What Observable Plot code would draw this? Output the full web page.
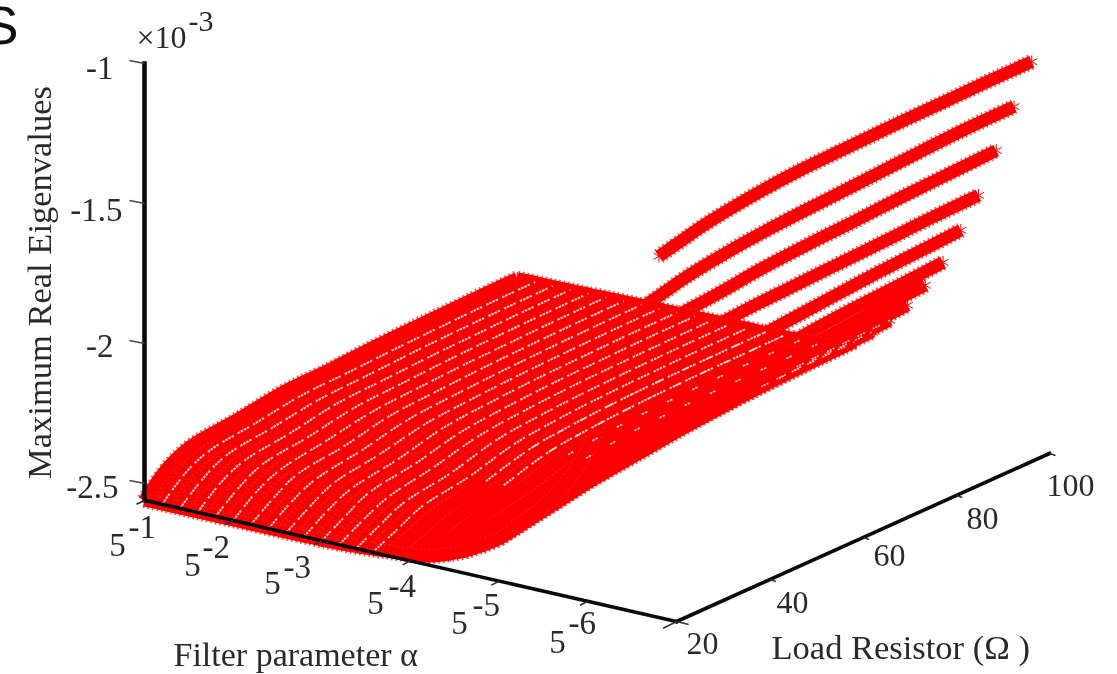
<!DOCTYPE html>
<html>
<head>
<meta charset="utf-8">
<style>html,body{margin:0;padding:0;background:#fff;overflow:hidden}</style>
<script src="https://cdn.jsdelivr.net/npm/d3@7"></script>
<script src="https://cdn.jsdelivr.net/npm/@observablehq/plot@0.6"></script>
</head>
<body>
<div id="chart"></div>
<script>
// Filter parameter alpha = 5^-n, load resistor in ohms, eigenvalue in units of 1e-3
const loadResistors = [20, 25, 30, 40, 50, 60, 70, 80, 90, 100];
const alphaExponents = [1.0,1.2,1.4,1.6,1.8,2.0,2.2,2.4,2.6,2.8,3.0,3.2,3.4,3.6,3.8,4.0,4.2,4.4,4.6,4.8,5.0,5.2,5.4,5.6,5.8,6.0,6.2,6.4,6.6,6.8];
const a10 = [-2.56,-2.48,-2.44,-2.42,-2.395,-2.39,-2.38,-2.374,-2.37,-2.367];
const a12 = [-2.56,-2.485,-2.445,-2.42,-2.395,-2.388,-2.38,-2.374,-2.369,-2.366];
const a14 = [-2.56,-2.49,-2.445,-2.42,-2.395,-2.387,-2.378,-2.372,-2.368,-2.366];
const a16 = [-2.56,-2.49,-2.45,-2.425,-2.395,-2.386,-2.377,-2.372,-2.367,-2.365];
const a18 = [-2.56,-2.495,-2.45,-2.425,-2.395,-2.385,-2.376,-2.37,-2.366,-2.364];
const a20 = [-2.56,-2.495,-2.455,-2.425,-2.395,-2.384,-2.375,-2.37,-2.365,-2.363];
const a22 = [-2.56,-2.50,-2.455,-2.43,-2.395,-2.383,-2.374,-2.368,-2.364,-2.362];
const a24 = [-2.56,-2.50,-2.46,-2.43,-2.395,-2.382,-2.373,-2.367,-2.363,-2.361];
const a26 = [-2.56,-2.505,-2.46,-2.43,-2.395,-2.381,-2.372,-2.366,-2.362,-2.36];
const a28 = [-2.56,-2.505,-2.465,-2.435,-2.395,-2.38,-2.37,-2.365,-2.361,-2.36];
const a30 = [-2.56,-2.51,-2.465,-2.435,-2.395,-2.379,-2.369,-2.364,-2.36,-2.359];
const a32 = [-2.558,-2.51,-2.47,-2.435,-2.395,-2.378,-2.368,-2.363,-2.36,-2.358];
const a34 = [-2.555,-2.51,-2.47,-2.44,-2.395,-2.377,-2.367,-2.362,-2.359,-2.358];
const a36 = [-2.55,-2.51,-2.47,-2.44,-2.395,-2.376,-2.366,-2.361,-2.358,-2.357];
const a38 = [-2.545,-2.51,-2.475,-2.44,-2.393,-2.375,-2.365,-2.36,-2.358,-2.357];
const a40 = [-2.54,-2.51,-2.475,-2.44,-2.392,-2.374,-2.364,-2.359,-2.357,-2.356];
const a42 = [-2.53,-2.505,-2.475,-2.44,-2.391,-2.372,-2.363,-2.358,-2.356,-2.356];
const a44 = [-2.51,-2.495,-2.475,-2.445,-2.39,-2.37,-2.361,-2.357,-2.356,-2.355];
const a46 = [-2.485,-2.48,-2.475,-2.445,-2.39,-2.367,-2.36,-2.355,-2.355,-2.355];
const a48 = [-2.45,-2.445,-2.43,-2.40,-2.36,-2.345,-2.34,-2.33,-2.325,-2.32];
const a50 = [-2.41,-2.395,-2.38,-2.35,-2.33,-2.31,-2.295,-2.285,-2.275,-2.271];
const a52 = [-2.35,-2.335,-2.32,-2.29,-2.27,-2.255,-2.24,-2.23,-2.222,-2.214];
const a54 = [-2.29,-2.275,-2.26,-2.235,-2.21,-2.19,-2.18,-2.165,-2.155,-2.146];
const a56 = [-2.22,-2.205,-2.19,-2.16,-2.14,-2.12,-2.10,-2.085,-2.07,-2.06];
const a58 = [-2.13,-2.115,-2.10,-2.07,-2.045,-2.02,-2.0,-1.985,-1.975,-1.964];
const a60 = [-2.02,-1.99,-1.96,-1.925,-1.90,-1.885,-1.87,-1.855,-1.845,-1.835];
const a62 = [-1.83,-1.80,-1.77,-1.745,-1.73,-1.722,-1.715,-1.708,-1.70,-1.696];
const a64 = [-1.63,-1.615,-1.60,-1.585,-1.565,-1.553,-1.545,-1.535,-1.528,-1.521];
const a66 = [-1.47,-1.45,-1.43,-1.405,-1.39,-1.38,-1.37,-1.36,-1.352,-1.35];
const a68 = [-1.27,-1.25,-1.23,-1.205,-1.19,-1.185,-1.18,-1.178,-1.175,-1.175];
const eigenSeries = [a10,a12,a14,a16,a18,a20,a22,a24,a26,a28,a30,a32,a34,a36,a38,a40,a42,a44,a46,a48,a50,a52,a54,a56,a58,a60,a62,a64,a66,a68];

const zTicks = [-1, -1.5, -2, -2.5];
const zTickLabels = ["-1", "-1.5", "-2", "-2.5"];
const alphaTicks = [1, 2, 3, 4, 5, 6];
const rTicks = [20, 40, 60, 80, 100];

// Oblique view of the three data axes on the drawing plane
const view = {ox: 144, oy: 499.8, ex: 88.7, ey: 20.2, rx: 4.66, ry: -2.1, zy: -280};
const px = (e, r) => view.ox + (e - 1) * view.ex + (r - 20) * view.rx;
const py = (e, r, z) => view.oy + (e - 1) * view.ey + (r - 20) * view.ry + (z + 2.56) * view.zy;

const surface = alphaExponents.flatMap((e, i) =>
  loadResistors.map((r, j) => ({e, r, z: eigenSeries[i][j], x: px(e, r), y: py(e, r, eigenSeries[i][j])})));
const flat = surface.filter((d) => d.e <= 4.6);
const rim = flat.filter((d) => d.r === 20)
  .concat(flat.filter((d) => d.e === 4.6 && d.r > 20))
  .concat(flat.filter((d) => d.r === 100 && d.e < 4.6).reverse())
  .concat(flat.filter((d) => d.e === 1 && d.r > 20 && d.r < 100).reverse());
const denseFlecks = surface.filter((d) => d.e >= 1.2 && ((d.e <= 3.6) || (d.e <= 4.0 && d.r >= 40)));
const sparseFlecks = surface.filter((d) => d.e >= 3.8 && d.e <= 4.4 && d.r >= 50);
const farFlecks = surface.filter((d) => d.e >= 4.8 && d.e <= 5.2 && d.r >= 80);

const serif = "'Liberation Serif', 'Times New Roman', serif";
const ink = "#2a2a2a";
const red = "#fb0000";
const tooth = "#ff1a1a";
const teeth = "1.6 3";

// Label nudges away from their ticks
const zLabelEnd = [113, 122, 113, 118];
const zLabelBase = [78, 220, 356, 497];
const fiveCenter = [117, 192, 272, 375, 459, 557];
const fiveBase = [555, 575, 593, 613, 633, 652];
const expStart = [128, 202, 283, 388, 472, 568];
const expBase = [537, 557, 577, 596, 615, 633];
const rLabelCenter = [702, 792, 889, 982, 1070];
const rLabelBase = [653, 612, 565, 528, 495];

const axisLine = (pts, w) => Plot.line(pts, {x: "x", y: "y", stroke: "#0a0a0a", strokeWidth: w, strokeLinecap: "square"});
const zEnd = [{x: px(1, 20), y: py(1, 20, -2.56)}, {x: px(1, 20), y: py(1, 20, -1)}];
const alphaEnd = [{x: px(1, 20), y: py(1, 20, -2.56)}, {x: px(7, 20), y: py(7, 20, -2.56)}];
const rEnd = [{x: px(7, 20), y: py(7, 20, -2.56)}, {x: px(7, 100), y: py(7, 100, -2.56)}];

const txt = (data, opts) => Plot.text(data, {fontFamily: serif, fill: ink, lineAnchor: "bottom", ...opts});
const along = (data, z, opts) => Plot.line(data, {x: "x", y: "y", z, curve: "catmull-rom", strokeLinecap: "butt", ...opts});

const chart = Plot.plot({
  width: 1117,
  height: 674,
  marginTop: 0, marginRight: 0, marginBottom: 0, marginLeft: 0,
  x: {domain: [0, 1117], range: [0, 1117], axis: null},
  y: {domain: [0, 674], range: [0, 674], axis: null},
  style: {background: "#fff", filter: "blur(0.6px)", overflow: "hidden"},
  marks: [
    // outline of the low, nearly flat part of the surface
    Plot.line(rim, {x: "x", y: "y", fill: red, stroke: "none"}),
    // the surface: one stroke per alpha series, toothed by its markers
    along(surface, "e", {stroke: tooth, strokeOpacity: 0.8, strokeWidth: 16, strokeDasharray: teeth}),
    along(surface, "e", {stroke: red, strokeWidth: 12.4}),
    Plot.dot(surface, {x: "x", y: "y", symbol: "asterisk", r: 6, stroke: red, strokeWidth: 1}),
    // rim rows at the lowest and highest resistor
    along(surface.filter((d) => d.r === 20 && d.e <= 6.6), "r", {stroke: tooth, strokeOpacity: 0.8, strokeWidth: 15.5, strokeDasharray: teeth}),
    along(surface.filter((d) => d.r === 20 && d.e <= 6.6), "r", {stroke: red, strokeWidth: 12}),
    along(flat.filter((d) => d.r === 100), "r", {stroke: tooth, strokeOpacity: 0.8, strokeWidth: 15.5, strokeDasharray: teeth}),
    along(flat.filter((d) => d.r === 100), "r", {stroke: red, strokeWidth: 12}),
    // pale flecks left between the markers along each series
    along(denseFlecks, "e", {stroke: "#ffd6d6", strokeWidth: 2, strokeDasharray: "2.5 1 2.5 1 2.5 1 2.5 4.5"}),
    along(sparseFlecks, "e", {stroke: "#ffd0d0", strokeWidth: 1.7, strokeDasharray: "2.5 1 2.5 22"}),
    along(farFlecks, "e", {stroke: "#ffdcdc", strokeWidth: 1.5, strokeDasharray: "2 1 2 1 2 9"}),
    // axes
    axisLine(zEnd, 4.6), axisLine(alphaEnd, 3.6), axisLine(rEnd, 3.6),
    Plot.link(zTicks, {x1: () => px(1, 20), y1: (z) => py(1, 20, z), x2: () => px(1, 20) - 15, y2: (z) => py(1, 20, z) - 3, stroke: "#444", strokeWidth: 1.4}),
    Plot.link(alphaTicks.concat(7), {x1: (e) => px(e, 20), y1: (e) => py(e, 20, -2.56), x2: (e) => px(e, 20) - 8 * (e === 7 ? 1.7 : 1), y2: (e) => py(e, 20, -2.56) + 4 * (e === 7 ? 1.7 : 1), stroke: "#333", strokeWidth: 1.6}),
    Plot.link(rTicks, {x1: (r) => px(7, r), y1: (r) => py(7, r, -2.56), x2: (r) => px(7, r) + (r === 20 ? 12 : 6), y2: (r) => py(7, r, -2.56) + (r === 20 ? 3 : 2), stroke: "#333", strokeWidth: 1.6}),
    // z tick labels
    txt(zTickLabels, {x: (d, i) => zLabelEnd[i], y: (d, i) => zLabelBase[i], text: (d) => d, textAnchor: "end", fontSize: 33}),
    txt(["×10"], {x: () => 136, y: () => 47, text: (d) => d, textAnchor: "start", fontSize: 32}),
    txt(["-3"], {x: () => 188, y: () => 30, text: (d) => d, textAnchor: "start", fontSize: 30}),
    // alpha tick labels: base and exponent
    txt(alphaTicks, {x: (d, i) => fiveCenter[i], y: (d, i) => fiveBase[i], text: () => "5", textAnchor: "middle", fontSize: 33}),
    txt(alphaTicks, {x: (d, i) => expStart[i], y: (d, i) => expBase[i], text: (d) => "-" + d, textAnchor: "start", fontSize: 33}),
    // R tick labels
    txt(rTicks, {x: (d, i) => rLabelCenter[i], y: (d, i) => rLabelBase[i], text: (d) => String(d), textAnchor: "middle", fontSize: 32}),
    // axis titles
    txt(["Maximum Real Eigenvalues"], {x: () => 50, y: () => 282, text: (d) => d, rotate: -90, textAnchor: "middle", fontSize: 34.5}),
    txt(["Filter parameter α"], {x: () => 173, y: () => 665, text: (d) => d, textAnchor: "start", fontSize: 34}),
    txt(["Load Resistor (Ω )"], {x: () => 771, y: () => 658, text: (d) => d, textAnchor: "start", fontSize: 34.5}),
    // stray cropped heading letter at the top left
    Plot.text(["S"], {x: () => -18, y: () => 43, text: (d) => d, textAnchor: "start", lineAnchor: "bottom", fontFamily: "'Liberation Sans', Arial, sans-serif", fontSize: 54, fill: "#111"})
  ]
});
document.getElementById("chart").appendChild(chart);
</script>
</body>
</html>
